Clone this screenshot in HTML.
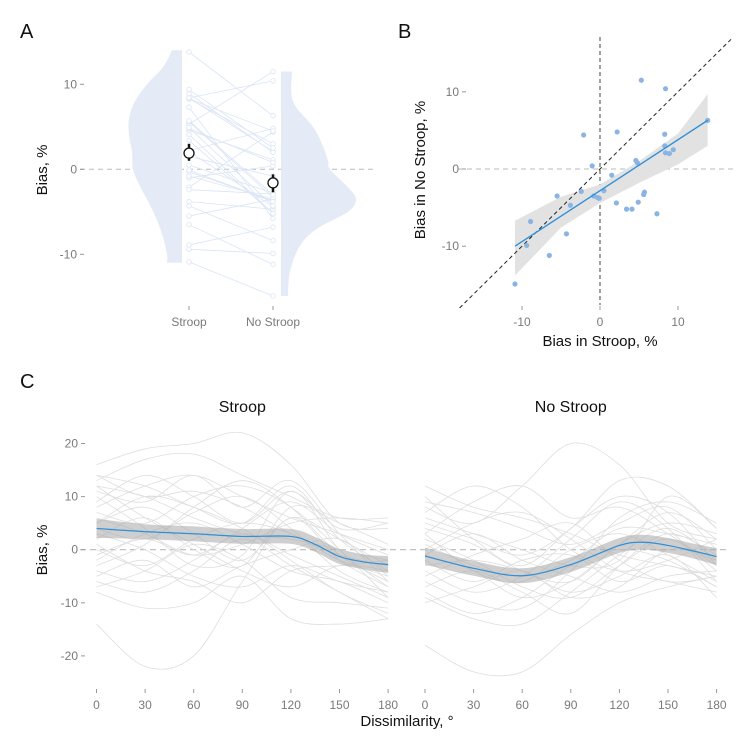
<!DOCTYPE html>
<html><head><meta charset="utf-8"><style>
html,body{margin:0;padding:0;background:#fff}
svg{display:block;font-family:"Liberation Sans",sans-serif}
.tick{fill:#7a7a7a;font-size:12px}
</style></head><body>
<svg id="c" width="750" height="750" viewBox="0 0 750 750"></svg>
<script>
// ---------- data ----------
const stroopBias = [5.3,8.4,-2.1,2.2,8.3,8.3,8.4,8.9,9.4,13.8,-1.0,4.6,4.8,1.5,-5.5,-2.4,-3.8,-0.8,-0.3,-0.1,0.5,2.1,3.4,4.1,4.9,5.6,5.7,7.3,-8.9,-4.3,-9.4,-6.5,-10.9];
const noStroopBias = [11.5,10.4,4.4,4.8,4.5,3.0,2.1,2.0,2.5,6.3,0.4,1.1,0.8,-0.8,-3.5,-2.9,-4.7,-3.5,-3.7,-3.8,-2.8,-4.4,-5.2,-5.2,-4.3,-3.3,-3.0,-5.8,-6.8,-8.4,-9.9,-11.2,-14.9];
const violinLeftY = [14,12,10,8,6,4,2,0,-2,-4,-6,-8,-10,-11];
const violinLeftW = [10,19,35,47,53,53,50,49,42,33,25,19,15,15];
const violinRightY = [11.5,8,5,3,1,0,-2,-3.5,-5,-7,-9,-12,-14.9];
const violinRightW = [11,12,32,41,47,49,66,75,67,36,19,9,7];
const means = [1.9,-1.6];
const ciLow = [1.0,-2.7];
const ciHigh = [3.0,-0.6];
const yTicksA = [10,0,-10];
const xTicksB = [-10,0,10];
const yTicksB = [10,0,-10];
const fitX = [-10.9,13.8];
const fitY = [-10.0,6.3];
const bandX = [-10.9,-5,0,5,10,13.8];
const bandLo = [-13.8,-7.6,-4.4,-1.8,0.6,3.0];
const bandHi = [-6.7,-3.6,-2.0,1.0,4.6,9.7];
const degs = [0,30,60,90,120,150,180];
const yTicksC = [20,10,0,-10,-20];
const meanDegs = [0,30,60,90,120,135,150,165,180];
const stroopMean = [4.0,3.4,3.0,2.5,2.5,1.0,-1.3,-2.3,-2.8];
const stroopSE = [1.8,1.4,1.4,1.4,1.4,1.4,1.4,1.4,1.6];
const noStroopMean = [-1.2,-3.5,-4.9,-2.8,0.8,1.4,0.8,-0.2,-1.3];
const noStroopSE = [1.6,1.4,1.4,1.4,1.4,1.4,1.4,1.4,1.6];
const stroopCurves = [
[16,19,20,22,16,5,4],[13,17,18,14,10,6,6],[14,12,8,5,12,2,-4],[11,9,14,8,13,3,-6],
[12,10,6,3,2,0,-2],[9,14,10,5,11,4,5],[7,5,10,12,8,0,-9],[5,8,3,-2,6,2,-3],
[4,2,7,10,4,-4,-8],[2,6,0,-3,8,5,1],[0,-3,2,5,3,-2,-5],[-2,3,5,1,-4,-6,-10],
[-4,-6,-2,4,9,3,-1],[-5,-2,-7,-3,0,2,-5],[-6,-8,-4,2,-3,-8,-13],[-8,-11,-10,-5,-13,-14,-13],
[-14,-22,-20,-6,6,-2,-7],[12,6,1,-4,-7,-3,-4],[8,12,14,10,6,3,0],[3,0,-5,-7,-3,-6,-8],
[-3,1,8,13,8,-1,-6],[6,3,-1,1,5,6,5],[-7,-4,1,-2,-9,-10,-11],[10,4,-3,-1,11,0,-7],
[1,-4,-6,-10,-4,-3,-2],[-1,2,-1,3,-1,-5,-9],[14,10,11,8,3,-1,-3],[5,10,8,4,-2,-8,-12]];
const noStroopCurves = [
[8,5,12,20,16,5,2],[12,8,6,3,-1,-3,-5],[5,2,-1,4,13,12,4],[3,9,12,6,8,3,-3],
[-1,-4,-9,-6,1,7,2],[-18,-23,-23,-16,-10,-7,-5],[-4,-8,-5,2,9,4,-6],[-6,-10,-11,-4,6,9,5],
[2,-2,-7,-9,-3,2,-4],[0,5,7,2,-4,-6,-8],[-8,-12,-9,-3,0,-2,-7],[-9,-13,-14,-8,-1,4,-2],
[6,3,0,-3,-2,10,4],[-3,-2,-4,-8,-5,-1,-9],[9,7,4,1,5,8,0],[-5,-1,2,5,-2,-6,-5],
[1,-3,-5,-2,4,3,1],[-2,-6,-2,-1,-6,-3,-7],[4,1,-4,-6,1,5,3],[-10,-7,-4,-9,-7,0,-2],
[7,12,8,0,-4,-2,2],[-7,-4,-8,-12,-3,3,-1],[10,2,-3,4,10,7,-3],[-1,3,-2,-5,-8,-5,-4],[3,-4,-6,0,3,-1,-6]];

// ---------- helpers ----------
const svg = document.getElementById('c');
const NS = 'http://www.w3.org/2000/svg';
function mk(tag, attrs, parent, text){
  const e = document.createElementNS(NS, tag);
  for (const k in attrs) e.setAttribute(k, attrs[k]);
  if (text !== undefined) e.textContent = text;
  (parent || svg).appendChild(e);
  return e;
}
function smooth(pts){
  let d = 'M' + pts[0][0] + ',' + pts[0][1];
  for (let i = 0; i < pts.length - 1; i++){
    const p0 = pts[Math.max(i-1,0)], p1 = pts[i], p2 = pts[i+1], p3 = pts[Math.min(i+2,pts.length-1)];
    const c1x = p1[0] + (p2[0]-p0[0])/6, c1y = p1[1] + (p2[1]-p0[1])/6;
    const c2x = p2[0] - (p3[0]-p1[0])/6, c2y = p2[1] - (p3[1]-p1[1])/6;
    d += ' C' + c1x + ',' + c1y + ' ' + c2x + ',' + c2y + ' ' + p2[0] + ',' + p2[1];
  }
  return d;
}
function smoothTail(pts){ return smooth(pts).replace(/^M/, 'L'); }

// ---------- panel labels ----------
let t;
t = mk('text',{x:20,y:38,'font-size':20,fill:'#111'},svg,'A');
 
t = mk('text',{x:398,y:38,'font-size':20,fill:'#111'},svg,'B');
 
t = mk('text',{x:20,y:388,'font-size':20,fill:'#111'},svg,'C');
 

// ---------- panel A ----------
const gA = mk('g',{});  
const yA = v => 169.3 - 8.5*v;
const xS = 189, xN = 273;
mk('line',{x1:80,x2:375,y1:yA(0),y2:yA(0),stroke:'#bbb','stroke-dasharray':'5,4','stroke-width':1},gA);
let lp = violinLeftY.map((v,i)=>[182 - violinLeftW[i], yA(v)]);
let dL = 'M182,' + yA(violinLeftY[0]) + ' ' + smoothTail(lp) + ' L182,' + yA(violinLeftY[violinLeftY.length-1]) + 'Z';
const vl = mk('path',{d:dL,fill:'#e5ebf6'},gA);
 
let rp = violinRightY.map((v,i)=>[281 + violinRightW[i], yA(v)]);
let dR = 'M281,' + yA(violinRightY[0]) + ' ' + smoothTail(rp) + ' L281,' + yA(violinRightY[violinRightY.length-1]) + 'Z';
const vr = mk('path',{d:dR,fill:'#e5ebf6'},gA);
 
stroopBias.forEach((s,i)=>{
  const l = mk('line',{x1:xS,y1:yA(s),x2:xN,y2:yA(noStroopBias[i]),stroke:'#dbe5f5','stroke-width':0.8},gA);
   
});
stroopBias.forEach((s,i)=>{
  const c1 = mk('circle',{cx:xS,cy:yA(s),r:2.3,fill:'#fff',stroke:'#dbe5f5','stroke-width':0.8},gA);
   
  const c2 = mk('circle',{cx:xN,cy:yA(noStroopBias[i]),r:2.3,fill:'#fff',stroke:'#dbe5f5','stroke-width':0.8},gA);
   
});
[xS,xN].forEach((x,i)=>{
  mk('line',{x1:x,x2:x,y1:yA(ciLow[i]),y2:yA(ciHigh[i]),stroke:'#111','stroke-width':2.5},gA);
  const m = mk('circle',{cx:x,cy:yA(means[i]),r:5,fill:'#fff',stroke:'#111','stroke-width':1.3},gA);
   
});
yTicksA.forEach(v=>{
  mk('text',{x:77,y:yA(v)+4,'text-anchor':'end',class:'tick'},gA,String(v));
  mk('line',{x1:80,x2:84,y1:yA(v),y2:yA(v),stroke:'#999'},gA);
});
[['Stroop',xS],['No Stroop',xN]].forEach(([n,x])=>{
  mk('line',{x1:x,x2:x,y1:306,y2:310,stroke:'#999'},gA);
  mk('text',{x:x,y:326,'text-anchor':'middle',class:'tick'},gA,n);
});
t = mk('text',{x:0,y:0,'font-size':15,fill:'#111','text-anchor':'middle',transform:'translate(47,170) rotate(-90)'},gA,'Bias, %');
 

// ---------- panel B ----------
const gB = mk('g',{});  
const xB = v => 600 + 7.8*v, yB = v => 169 - 7.72*v;
mk('line',{x1:458,x2:733,y1:yB(0),y2:yB(0),stroke:'#bbb','stroke-dasharray':'5,4'},gB);
mk('line',{x1:xB(0),x2:xB(0),y1:37,y2:305,stroke:'#555','stroke-dasharray':'4,3','stroke-width':1.1},gB);
const bandPts = bandX.map((x,i)=>xB(x)+','+yB(bandHi[i])).concat(bandX.slice().reverse().map((x,i)=>xB(x)+','+yB(bandLo[bandX.length-1-i])));
const band = mk('polygon',{points:bandPts.join(' '),fill:'#e2e2e2'},gB);
 
const idl = mk('line',{x1:xB(-18),y1:yB(-18),x2:xB(16.8),y2:yB(16.8),stroke:'#222','stroke-dasharray':'4,3','stroke-width':1},gB);
 
stroopBias.forEach((s,i)=>{
  const c = mk('circle',{cx:xB(s),cy:yB(noStroopBias[i]),r:2.6,fill:'#8ab4e4'},gB);
   
});
const fl = mk('line',{x1:xB(fitX[0]),y1:yB(fitY[0]),x2:xB(fitX[1]),y2:yB(fitY[1]),stroke:'#2f8fd8','stroke-width':1.4},gB);
 
xTicksB.forEach(v=>{
  mk('line',{x1:xB(v),x2:xB(v),y1:306,y2:310,stroke:'#999'},gB);
  mk('text',{x:xB(v),y:326,'text-anchor':'middle',class:'tick'},gB,String(v));
});
yTicksB.forEach(v=>{
  mk('text',{x:459,y:yB(v)+4,'text-anchor':'end',class:'tick'},gB,String(v));
  mk('line',{x1:462,x2:466,y1:yB(v),y2:yB(v),stroke:'#999'},gB);
});
t = mk('text',{x:600,y:346,'font-size':15,fill:'#111','text-anchor':'middle'},gB,'Bias in Stroop, %');
 
t = mk('text',{x:0,y:0,'font-size':15,fill:'#111','text-anchor':'middle',transform:'translate(425,170) rotate(-90)'},gB,'Bias in No Stroop, %');
 

// ---------- panel C ----------
const yC = v => 549.7 - 5.31*v;
function facet(x0, curves, mean, se, title, name){
  const g = mk('g',{});  
  const xC = d => x0 + 1.62*d;
  curves.forEach(c=>{
    const p = mk('path',{d:smooth(degs.map((d,i)=>[xC(d),yC(c[i])])),fill:'none',stroke:'#dedede','stroke-width':0.8},g);
     
  });
  const hi = meanDegs.map((d,i)=>[xC(d),yC(mean[i]+se[i])]);
  const lo = meanDegs.map((d,i)=>[xC(d),yC(mean[i]-se[i])]).reverse();
  const b = mk('path',{d:smooth(hi)+' '+smoothTail(lo)+'Z',fill:'#a8a8a8','fill-opacity':0.55},g);
   
  const m = mk('path',{d:smooth(meanDegs.map((d,i)=>[xC(d),yC(mean[i])])),fill:'none',stroke:'#2f8fd8','stroke-width':1.2},g);
   
  degs.forEach(d=>{
    mk('line',{x1:xC(d),x2:xC(d),y1:689,y2:693,stroke:'#999'},g);
    mk('text',{x:xC(d),y:709,'text-anchor':'middle',class:'tick'},g,String(d));
  });
  const tt = mk('text',{x:xC(90),y:412,'font-size':16,fill:'#111','text-anchor':'middle'},g,title);
   
}
mk('line',{x1:80,x2:730,y1:yC(0),y2:yC(0),stroke:'#bbb','stroke-dasharray':'6,4','stroke-width':1.2});
facet(96.5, stroopCurves, stroopMean, stroopSE, 'Stroop', 'facet-stroop');
facet(425, noStroopCurves, noStroopMean, noStroopSE, 'No Stroop', 'facet-no-stroop');
yTicksC.forEach(v=>{
  mk('text',{x:78,y:yC(v)+4,'text-anchor':'end',class:'tick'},svg,String(v));
  mk('line',{x1:81,x2:85,y1:yC(v),y2:yC(v),stroke:'#999'});
});
t = mk('text',{x:0,y:0,'font-size':15,fill:'#111','text-anchor':'middle',transform:'translate(47,550) rotate(-90)'},svg,'Bias, %');
 
t = mk('text',{x:407,y:726,'font-size':15,fill:'#111','text-anchor':'middle'},svg,'Dissimilarity, °');
 
</script>
</body></html>
